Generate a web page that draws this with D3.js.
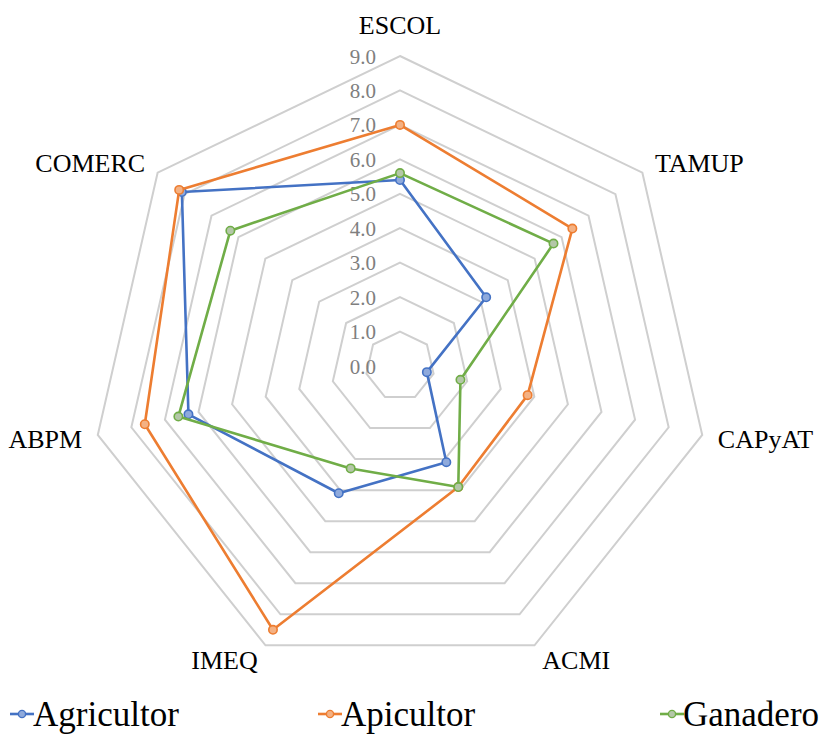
<!DOCTYPE html>
<html>
<head>
<meta charset="utf-8">
<script src="https://cdn.jsdelivr.net/npm/d3@7"></script>
<style>
  html, body { margin: 0; padding: 0; background: #ffffff; }
  svg { display: block; }
</style>
</head>
<body>
<svg id="chart" width="835" height="736"></svg>
<script>
// ---- Data ----
const categories = ["ESCOL", "TAMUP", "CAPyAT", "ACMI", "IMEQ", "ABPM", "COMERC"];
const seriesNames = ["Agricultor", "Apicultor", "Ganadero"];
const agricultor = [5.4, 3.2, 0.8, 3.1, 4.1, 6.3, 8.1];
const apicultor  = [7.0, 6.4, 3.8, 3.9, 8.5, 7.6, 8.2];
const ganadero   = [5.6, 5.7, 1.8, 3.9, 3.3, 6.6, 6.3];
const tickValues = [0, 1, 2, 3, 4, 5, 6, 7, 8, 9];
const tickLabels = ["0.0", "1.0", "2.0", "3.0", "4.0", "5.0", "6.0", "7.0", "8.0", "9.0"];

const seriesValues = [agricultor, apicultor, ganadero];
const colors = ["#4472C4", "#ED7D31", "#70AD47"];
const markerFills = ["#8FAADC", "#F4B183", "#B4C7A8"];

// ---- Layout ----
const svg = d3.select("#chart");
const cx = 400, cy = 366, R = 310;
const serif = "Liberation Serif, Times New Roman, DejaVu Serif, serif";

const r = d3.scaleLinear().domain([0, 9]).range([0, R]);
const angle = d3.scalePoint().domain(categories).range([0, 2 * Math.PI * (categories.length - 1) / categories.length]);

function pt(cat, v) {
  const a = angle(cat);
  return [cx + Math.sin(a) * r(v), cy - Math.cos(a) * r(v)];
}

const g = svg.append("g");

// Grid rings (0 is the center)
const line = d3.line();
tickValues.filter(t => t > 0).forEach(t => {
  const pts = categories.map(c => pt(c, t));
  g.append("path")
    .attr("d", line(pts) + "Z")
    .attr("fill", "none")
    .attr("stroke", "#cfcfcf")
    .attr("stroke-width", 2);
});

// Tick labels
g.selectAll("text.tick")
  .data(tickValues)
  .enter().append("text")
  .attr("class", "tick")
  .attr("x", cx - 24)
  .attr("y", d => cy - r(d))
  .attr("dy", "0.36em")
  .attr("text-anchor", "end")
  .attr("font-family", serif)
  .attr("font-size", 21)
  .attr("fill", "#7f7f7f")
  .text((d, i) => tickLabels[i]);

// Category labels
categories.forEach((c, i) => {
  const a = angle(c);
  const s = Math.sin(a), co = Math.cos(a);
  let lr = 326, anchor, dy = "0.35em";
  if (Math.abs(s) < 0.01) { anchor = "middle"; lr = 341; }
  else anchor = s > 0 ? "start" : "end";
  if (co < -0.8) { lr = 328; dy = "0.3em"; }
  g.append("text")
    .attr("x", cx + s * lr)
    .attr("y", cy - co * lr)
    .attr("dy", dy)
    .attr("text-anchor", anchor)
    .attr("font-family", serif)
    .attr("font-size", 26)
    .attr("fill", "#000")
    .text(c);
});

// Series
seriesValues.forEach((vals, si) => {
  const pts = categories.map((c, i) => pt(c, vals[i]));
  g.append("path")
    .attr("d", line(pts) + "Z")
    .attr("fill", "none")
    .attr("stroke", colors[si])
    .attr("stroke-width", 2.6)
    .attr("stroke-linejoin", "round");
  g.selectAll(null)
    .data(pts)
    .enter().append("circle")
    .attr("cx", d => d[0])
    .attr("cy", d => d[1])
    .attr("r", 4.2)
    .attr("fill", markerFills[si])
    .attr("stroke", colors[si])
    .attr("stroke-width", 1.6);
});

// Legend
const legendX = [10, 318, 660];
const legendY = 714;
seriesNames.forEach((name, si) => {
  const lg = svg.append("g").attr("transform", `translate(${legendX[si]},${legendY})`);
  lg.append("line")
    .attr("x1", 0).attr("x2", 24)
    .attr("y1", 0).attr("y2", 0)
    .attr("stroke", colors[si])
    .attr("stroke-width", 2.6);
  lg.append("circle")
    .attr("cx", 12).attr("cy", 0).attr("r", 3.6)
    .attr("fill", markerFills[si])
    .attr("stroke", colors[si])
    .attr("stroke-width", 1.4);
  lg.append("text")
    .attr("x", 23)
    .attr("y", 0)
    .attr("dy", "0.33em")
    .attr("font-family", serif)
    .attr("font-size", 35)
    .attr("fill", "#000")
    .text(name);
});
</script>
</body>
</html>
